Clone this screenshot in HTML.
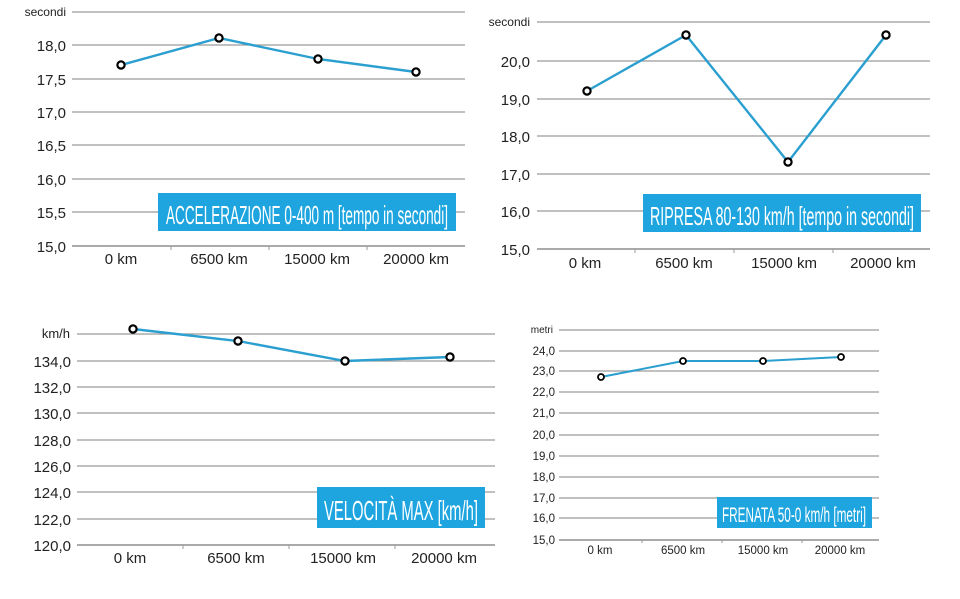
<!DOCTYPE html>
<html><head><meta charset="utf-8"><style>
html,body{margin:0;padding:0;background:#fff;}
svg{display:block;font-family:"Liberation Sans",sans-serif;}
.g{stroke:#9a9a9a;stroke-width:1.2;}
.ax{stroke:#777;stroke-width:1.3;}
.l{fill:none;stroke:#2a9fd0;stroke-width:2.4;}
.p{fill:#fff;stroke:#000;stroke-width:2.2;}
.yl{font-size:15px;fill:#222;text-anchor:end;}
.xl{font-size:15px;fill:#222;text-anchor:middle;}
.bx{fill:#1ea5df;}
.bt{fill:#fff;font-family:"Liberation Sans Narrow","Liberation Sans",sans-serif;}
.tk{stroke:#999;stroke-width:1;}
</style></head><body>
<svg width="960" height="599" viewBox="0 0 960 599">
<!-- Chart 1 -->
<g>
<text x="66" y="16" class="yl" style="font-size:12px">secondi</text>
<line class="g" x1="72" y1="12" x2="465" y2="12"/>
<line class="g" x1="72" y1="45" x2="465" y2="45"/>
<line class="g" x1="72" y1="79" x2="465" y2="79"/>
<line class="g" x1="72" y1="112" x2="465" y2="112"/>
<line class="g" x1="72" y1="145" x2="465" y2="145"/>
<line class="g" x1="72" y1="179" x2="465" y2="179"/>
<line class="g" x1="72" y1="212" x2="465" y2="212"/>
<line class="ax" x1="72" y1="246" x2="465" y2="246"/>
<line class="tk" x1="171" y1="246" x2="171" y2="250"/><line class="tk" x1="269" y1="246" x2="269" y2="250"/><line class="tk" x1="367" y1="246" x2="367" y2="250"/>
<text class="yl" x="66" y="51">18,0</text>
<text class="yl" x="66" y="85">17,5</text>
<text class="yl" x="66" y="118">17,0</text>
<text class="yl" x="66" y="151">16,5</text>
<text class="yl" x="66" y="185">16,0</text>
<text class="yl" x="66" y="218">15,5</text>
<text class="yl" x="66" y="252">15,0</text>
<text class="xl" x="121" y="264">0 km</text>
<text class="xl" x="219" y="264">6500 km</text>
<text class="xl" x="317" y="264">15000 km</text>
<text class="xl" x="416" y="264">20000 km</text>
<rect class="bx" x="158" y="193" width="298" height="38"/>
<text class="bt" x="166" y="224" font-size="26" textLength="282" lengthAdjust="spacingAndGlyphs">ACCELERAZIONE 0-400 m [tempo in secondi]</text>
<polyline class="l" points="121,65 219,38 318,59 416,72"/>
<circle class="p" cx="121" cy="65" r="3.6"/><circle class="p" cx="219" cy="38" r="3.6"/><circle class="p" cx="318" cy="59" r="3.6"/><circle class="p" cx="416" cy="72" r="3.6"/>
</g>
<!-- Chart 2 -->
<g>
<text x="530" y="26" class="yl" style="font-size:12px">secondi</text>
<line class="g" x1="537" y1="22" x2="930" y2="22"/>
<line class="g" x1="537" y1="61" x2="930" y2="61"/>
<line class="g" x1="537" y1="99" x2="930" y2="99"/>
<line class="g" x1="537" y1="136" x2="930" y2="136"/>
<line class="g" x1="537" y1="174" x2="930" y2="174"/>
<line class="g" x1="537" y1="211" x2="930" y2="211"/>
<line class="ax" x1="537" y1="249" x2="930" y2="249"/>
<line class="tk" x1="635" y1="249" x2="635" y2="253"/><line class="tk" x1="734" y1="249" x2="734" y2="253"/><line class="tk" x1="833" y1="249" x2="833" y2="253"/>
<text class="yl" x="530" y="67">20,0</text>
<text class="yl" x="530" y="105">19,0</text>
<text class="yl" x="530" y="142">18,0</text>
<text class="yl" x="530" y="180">17,0</text>
<text class="yl" x="530" y="217">16,0</text>
<text class="yl" x="530" y="255">15,0</text>
<text class="xl" x="585" y="268">0 km</text>
<text class="xl" x="684" y="268">6500 km</text>
<text class="xl" x="784" y="268">15000 km</text>
<text class="xl" x="883" y="268">20000 km</text>
<rect class="bx" x="643" y="194" width="278" height="38"/>
<text class="bt" x="650" y="225" font-size="26" textLength="264" lengthAdjust="spacingAndGlyphs">RIPRESA 80-130 km/h [tempo in secondi]</text>
<polyline class="l" points="587,91 686,35 788,162 886,35"/>
<circle class="p" cx="587" cy="91" r="3.6"/><circle class="p" cx="686" cy="35" r="3.6"/><circle class="p" cx="788" cy="162" r="3.6"/><circle class="p" cx="886" cy="35" r="3.6"/>
</g>
<!-- Chart 3 -->
<g>
<text x="70" y="338" class="yl" style="font-size:13px">km/h</text>
<line class="g" x1="77" y1="334" x2="495" y2="334"/>
<line class="g" x1="77" y1="361" x2="495" y2="361"/>
<line class="g" x1="77" y1="387" x2="495" y2="387"/>
<line class="g" x1="77" y1="413" x2="495" y2="413"/>
<line class="g" x1="77" y1="440" x2="495" y2="440"/>
<line class="g" x1="77" y1="466" x2="495" y2="466"/>
<line class="g" x1="77" y1="492" x2="495" y2="492"/>
<line class="g" x1="77" y1="519" x2="495" y2="519"/>
<line class="ax" x1="77" y1="545" x2="495" y2="545"/>
<line class="tk" x1="183" y1="545" x2="183" y2="549"/><line class="tk" x1="289" y1="545" x2="289" y2="549"/><line class="tk" x1="395" y1="545" x2="395" y2="549"/>
<text class="yl" x="71" y="367">134,0</text>
<text class="yl" x="71" y="393">132,0</text>
<text class="yl" x="71" y="419">130,0</text>
<text class="yl" x="71" y="446">128,0</text>
<text class="yl" x="71" y="472">126,0</text>
<text class="yl" x="71" y="498">124,0</text>
<text class="yl" x="71" y="525">122,0</text>
<text class="yl" x="71" y="551">120,0</text>
<text class="xl" x="130" y="563">0 km</text>
<text class="xl" x="236" y="563">6500 km</text>
<text class="xl" x="343" y="563">15000 km</text>
<text class="xl" x="444" y="563">20000 km</text>
<rect class="bx" x="317" y="487" width="168" height="41"/>
<text class="bt" x="324" y="520" font-size="28" textLength="154" lengthAdjust="spacingAndGlyphs">VELOCITÀ MAX [km/h]</text>
<polyline class="l" points="133,329 238,341 345,361 450,357"/>
<circle class="p" cx="133" cy="329" r="3.6"/><circle class="p" cx="238" cy="341" r="3.6"/><circle class="p" cx="345" cy="361" r="3.6"/><circle class="p" cx="450" cy="357" r="3.6"/>
</g>
<!-- Chart 4 -->
<g>
<text x="553" y="333" class="yl" style="font-size:10px">metri</text>
<line class="g" x1="559" y1="330" x2="879" y2="330"/>
<line class="g" x1="559" y1="351" x2="879" y2="351"/>
<line class="g" x1="559" y1="371" x2="879" y2="371"/>
<line class="g" x1="559" y1="392" x2="879" y2="392"/>
<line class="g" x1="559" y1="413" x2="879" y2="413"/>
<line class="g" x1="559" y1="435" x2="879" y2="435"/>
<line class="g" x1="559" y1="456" x2="879" y2="456"/>
<line class="g" x1="559" y1="477" x2="879" y2="477"/>
<line class="g" x1="559" y1="498" x2="879" y2="498"/>
<line class="g" x1="559" y1="518" x2="879" y2="518"/>
<line class="ax" x1="559" y1="540" x2="879" y2="540"/>
<line class="tk" x1="642" y1="540" x2="642" y2="543"/><line class="tk" x1="722" y1="540" x2="722" y2="543"/><line class="tk" x1="802" y1="540" x2="802" y2="543"/>
<text class="yl" style="font-size:11.5px" x="555" y="355">24,0</text>
<text class="yl" style="font-size:11.5px" x="555" y="375">23,0</text>
<text class="yl" style="font-size:11.5px" x="555" y="396">22,0</text>
<text class="yl" style="font-size:11.5px" x="555" y="417">21,0</text>
<text class="yl" style="font-size:11.5px" x="555" y="439">20,0</text>
<text class="yl" style="font-size:11.5px" x="555" y="460">19,0</text>
<text class="yl" style="font-size:11.5px" x="555" y="481">18,0</text>
<text class="yl" style="font-size:11.5px" x="555" y="502">17,0</text>
<text class="yl" style="font-size:11.5px" x="555" y="522">16,0</text>
<text class="yl" style="font-size:11.5px" x="555" y="544">15,0</text>
<text class="xl" style="font-size:11.5px" x="600" y="554">0 km</text>
<text class="xl" style="font-size:11.5px" x="683" y="554">6500 km</text>
<text class="xl" style="font-size:11.5px" x="763" y="554">15000 km</text>
<text class="xl" style="font-size:11.5px" x="840" y="554">20000 km</text>
<rect class="bx" x="717" y="497" width="155" height="31"/>
<text class="bt" x="722" y="522" font-size="21" textLength="144" lengthAdjust="spacingAndGlyphs">FRENATA 50-0 km/h [metri]</text>
<polyline class="l" style="stroke-width:2" points="601,377 683,361 763,361 841,357"/>
<circle class="p" style="stroke-width:1.8" cx="601" cy="377" r="3"/><circle class="p" style="stroke-width:1.8" cx="683" cy="361" r="3"/><circle class="p" style="stroke-width:1.8" cx="763" cy="361" r="3"/><circle class="p" style="stroke-width:1.8" cx="841" cy="357" r="3"/>
</g>
</svg>
</body></html>
